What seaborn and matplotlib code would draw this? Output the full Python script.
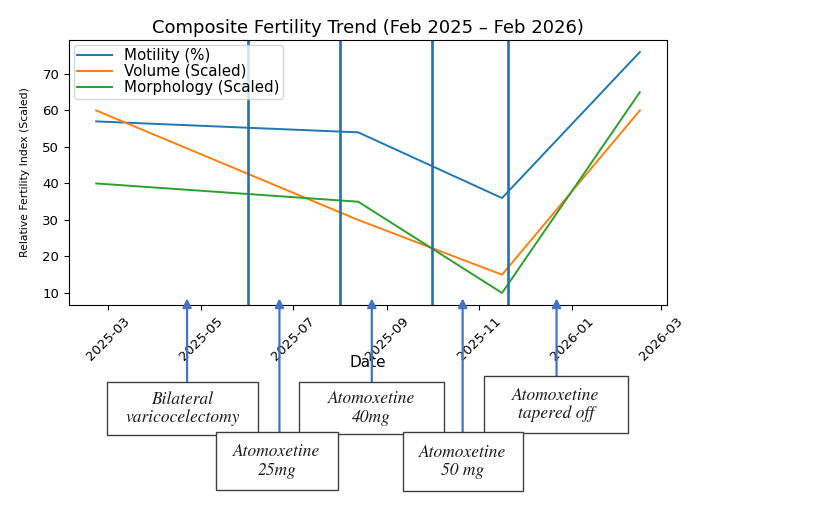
import matplotlib
matplotlib.use("Agg")
import matplotlib.pyplot as plt
import matplotlib.dates as mdates
from matplotlib.patches import Rectangle
import pandas as pd
import seaborn as sns

# --- data ---
dates = ["2025-02-21", "2025-08-13", "2025-11-16", "2026-02-15"]
motility = [57, 54, 36, 76]
volume = [60, 30, 15, 60]
morphology = [40, 35, 10, 65]

change_dates = ["2025-06-01", "2025-08-01", "2025-10-01", "2025-11-20"]

event_dates = ["2025-04-22", "2025-06-22", "2025-08-22", "2025-10-21", "2025-12-22"]
event_labels = ["Bilateral\nvaricocelectomy", "Atomoxetine\n25mg", "Atomoxetine\n40mg",
                "Atomoxetine\n50 mg", "Atomoxetine\ntapered off"]

df = pd.DataFrame({
    "date": pd.to_datetime(dates),
    "Motility (%)": motility,
    "Volume (Scaled)": volume,
    "Morphology (Scaled)": morphology,
})

W, H = 834, 527
fig = plt.figure(figsize=(W / 100, H / 100), dpi=100)
ax = fig.add_axes([69 / W, 1 - 305 / H, 598 / W, 265 / H])

colors = sns.color_palette("tab10")
for i, col in enumerate(["Motility (%)", "Volume (Scaled)", "Morphology (Scaled)"]):
    sns.lineplot(data=df, x="date", y=col, ax=ax, color=colors[i], label=col, linewidth=1.4)

for d in pd.to_datetime(change_dates):
    ax.axvline(d, color="#1a74b6", linewidth=1.9)

ax.set_title("Composite Fertility Trend (Feb 2025 \u2013 Feb 2026)", fontsize=13, pad=5)
ax.set_xlabel("Date", fontsize=11)
ax.xaxis.set_label_coords(0.5, -0.19)
ax.set_ylabel("Relative Fertility Index (Scaled)", fontsize=7.8)
ax.yaxis.set_label_coords(-0.066, 0.5)
ax.tick_params(labelsize=9.5)
plt.setp(ax.get_xticklabels(), rotation=45, ha="center")
ax.legend(loc="upper left", fontsize=10.8, handlelength=2.3, labelspacing=0.05,
          borderpad=0.25, borderaxespad=0.3)

# --- annotation boxes under the chart (pixel layout, top-left origin) ---
boxes = [(107, 382, 151, 53), (299, 382, 145, 52), (484, 376, 144, 57),
         (216, 432, 122, 58), (403, 432, 120, 59)]
order = [0, 2, 4, 1, 3]
for k, idx in enumerate(order):
    x0, y0, w, h = boxes[k]
    fig.add_artist(Rectangle((x0 / W, 1 - (y0 + h) / H), w / W, h / H,
                             transform=fig.transFigure, facecolor="white",
                             edgecolor="#404040", linewidth=1.0, zorder=3 + k))
    fig.text((x0 + w / 2) / W, 1 - (y0 + h / 2) / H, event_labels[idx],
             ha="center", va="center", fontsize=12.5, style="italic",
             family="STIXGeneral", linespacing=1.15, color="#1a1a1a", zorder=10 + k)
    xd = mdates.date2num(pd.to_datetime(event_dates[idx]))
    ax.annotate("", xy=(xd, 0.025), xycoords=ax.get_xaxis_transform(),
                xytext=(xd, H - y0), textcoords=("data", "figure pixels"),
                arrowprops=dict(arrowstyle="-|>", color="#4472C4", lw=1.6,
                                mutation_scale=13, shrinkA=0, shrinkB=0),
                annotation_clip=False)

fig.savefig("out.png", dpi=100)
